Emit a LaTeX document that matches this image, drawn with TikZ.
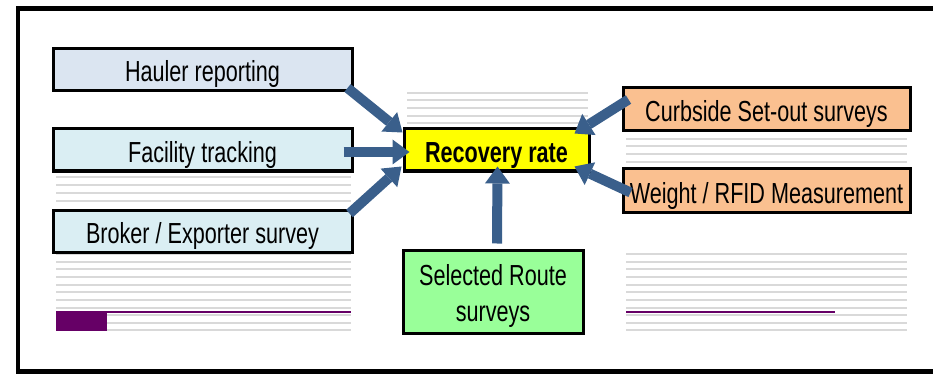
\documentclass[tikz,border=0pt]{standalone}
\usepackage{fontspec}
\newfontfamily\narrowfont{Liberation Sans}[FakeStretch=0.745]
\definecolor{haulerblue}{RGB}{219, 229, 241}
\definecolor{trackcyan}{RGB}{218, 238, 243}
\definecolor{rateyellow}{RGB}{255, 255, 0}
\definecolor{routegreen}{RGB}{153, 255, 153}
\definecolor{surveyorange}{RGB}{250, 192, 144}
\definecolor{feedblue}{RGB}{58, 95, 139}
\definecolor{stripegray}{RGB}{217, 217, 217}
\definecolor{barpurple}{RGB}{102, 0, 102}
\usetikzlibrary{arrows.meta, positioning, calc}

\begin{document}
\begin{tikzpicture}[x=1pt, y=-1pt,
    srcbox/.style={draw=black, line width=3pt, minimum width=299pt, minimum height=42pt, inner sep=0pt, text height=25pt, text depth=0pt, font=\narrowfont\fontsize{29}{36}\selectfont},
    feed/.style={draw=feedblue, line width=10pt, -{Triangle[width=25pt, length=17pt, line width=0pt]}},
    stripe/.style={draw=stripegray, line width=2.5pt}]
  \useasboundingbox (0,0) rectangle (933,374);

  % frame
  \draw[line width=4.5pt] (933,8.5) -- (18,8.5) -- (18,371.5) -- (933,371.5);

  % grey stripes
  \foreach \y in {177,185,193,201} \draw[stripe] (56,\y) -- (351,\y);
  \foreach \y in {93,100,108,116,123} \draw[stripe] (407,\y) -- (588,\y);
  \foreach \y in {139,146,154,162} \draw[stripe] (626,\y) -- (907,\y);
  \foreach \y in {254,262,269,277,285,292,300,308,315,323} {
    \draw[stripe] (56,\y) -- (351,\y);
    \draw[stripe] (626,\y) -- (907,\y);
  }
  \draw[stripe, line width=1.5pt] (56,330) -- (351,330);
  \draw[stripe, line width=1.5pt] (626,330) -- (907,330);
  \draw[barpurple, line width=2.5pt] (56,312) -- (351,312);
  \draw[barpurple, line width=2.5pt] (626,312) -- (835,312);
  \fill[barpurple] (56,311) rectangle (107,331);

  % sources on the left
  \node[srcbox, fill=haulerblue] (hauler) at (202.5,69.5) {Hauler reporting};
  \node[srcbox, fill=trackcyan] (facility) at (202.5,150) {Facility tracking};
  \node[srcbox, fill=trackcyan] (broker) at (202.5,231) {Broker / Exporter survey};

  % the rate
  \node[srcbox, fill=rateyellow, minimum width=185pt, font=\narrowfont\bfseries\fontsize{29}{36}\selectfont] (rate) at (496.5,150) {Recovery rate};
  \node[srcbox, fill=routegreen, minimum width=180pt, minimum height=83pt, text height=59pt, text depth=0pt, align=center] (route) at (493,291.5) {Selected Route\\surveys};

  % sources on the right
  \node[srcbox, fill=surveyorange, minimum width=287pt, minimum height=43pt] (curbside) at (766.5,109.5) {Curbside Set-out surveys};
  \node[srcbox, fill=surveyorange, minimum width=287pt, minimum height=43pt] (weight) at (766.5,190.5) {Weight / RFID Measurement};

  % arrows into the rate
  \draw[feed] ($(hauler.south east)+(-6,-4)$) -- ($(rate.north west)+(0,5)$);
  \draw[feed] ($(facility.east)+(-10,2)$) -- ($(rate.west)+(7,2)$);
  \draw[feed] ($(broker.north east)+(-4,5)$) -- ($(rate.south west)+(-1,-6)$);
  \draw[feed] ($(route.north)+(4,-5)$) -- ($(rate.south)+(1,-6)$);
  \draw[feed] ($(curbside.west)+(7,-10)$) -- ($(rate.north east)+(-16,6)$);
  \draw[feed] ($(weight.west)+(9,2)$) -- ($(rate.south east)+(-16,-6)$);
\end{tikzpicture}
\end{document}
